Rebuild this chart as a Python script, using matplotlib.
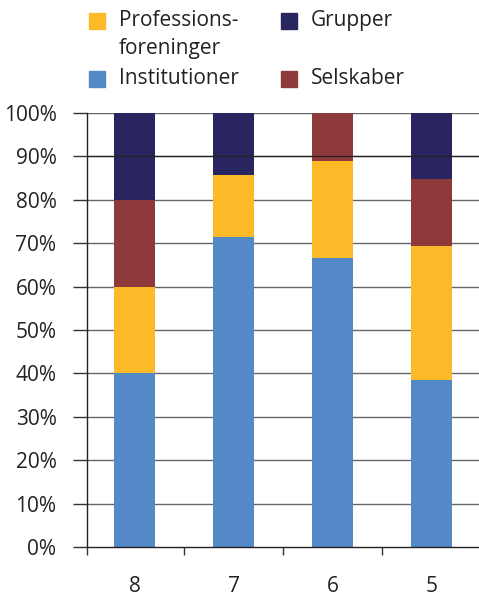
import numpy as np
import matplotlib.pyplot as plt
from matplotlib.patches import Rectangle

plt.rcParams['font.family'] = ['Open Sans', 'DejaVu Sans']

# ----------------------------
# Data (share of each type, %)
# ----------------------------
categories = ['8', '7', '6', '5']
institutioner = [40.0, 71.4, 66.7, 38.5]
professionsforeninger = [20.0, 14.3, 22.2, 30.8]
selskaber = [20.0, 0.0, 11.1, 15.4]
grupper = [20.0, 14.3, 0.0, 15.3]

series = [
    ('Institutioner', institutioner, '#5489c8'),
    ('Professions-\nforeninger', professionsforeninger, '#fdba28'),
    ('Selskaber', selskaber, '#8e3a3a'),
    ('Grupper', grupper, '#282560'),
]

fig = plt.figure(figsize=(4.79, 5.99), dpi=100)
ax = fig.add_axes([87 / 479, 52 / 599, 396 / 479, 434 / 599])

x = np.arange(len(categories))
bottom = np.zeros(len(categories))
for name, vals, col in series:
    ax.bar(x, vals, width=0.414, bottom=bottom, color=col, zorder=2)
    bottom += np.array(vals)

ax.set_xlim(-0.48, 3.52)
ax.set_ylim(0, 100)

# y axis
yt = np.arange(0, 101, 10)
ax.set_yticks(yt)
ax.set_yticklabels([f'{v}%' for v in yt], fontsize=15, color='#222222')
ax.tick_params(axis='y', length=10, width=1, color='#333333', pad=12)
for v in yt[1:]:
    ax.axhline(v, color='#666666', lw=1, zorder=1)
# the 90% line sits on top of the bars in the original
ax.axhline(90, color='#222222', lw=0.9, zorder=3)

# x axis: boundary ticks + centred labels
ax.set_xticks([-0.48, 0.5, 1.5, 2.5])
ax.set_xticklabels([])
ax.tick_params(axis='x', which='major', length=6, width=1, color='#333333')
ax.set_xticks(x, minor=True)
ax.set_xticklabels(categories, minor=True, fontsize=15, color='#222222')
ax.tick_params(axis='x', which='minor', length=0, pad=21)

for s in ['top', 'right']:
    ax.spines[s].set_visible(False)
for s in ['left', 'bottom']:
    ax.spines[s].set_color('#222222')
    ax.spines[s].set_linewidth(1)
    ax.spines[s].set_zorder(4)

# ----------------------------
# Legend (drawn by hand, two columns)
# ----------------------------
W, H = 479, 599
legend_items = [
    ('Professions-\nforeninger', '#fdba28', 89, 21),
    ('Institutioner', '#5489c8', 89, 79),
    ('Grupper', '#282560', 281, 21),
    ('Selskaber', '#8e3a3a', 281, 79),
]
for label, col, px, py in legend_items:
    fig.add_artist(Rectangle((px / W, 1 - (py + 8) / H), 16 / W, 16 / H,
                             transform=fig.transFigure, color=col))
    fig.text((px + 30) / W, 1 - (py - 11) / H, label, fontsize=15,
             color='#222222', va='top', ha='left', linespacing=1.45)

fig.savefig('out.png', dpi=100)
